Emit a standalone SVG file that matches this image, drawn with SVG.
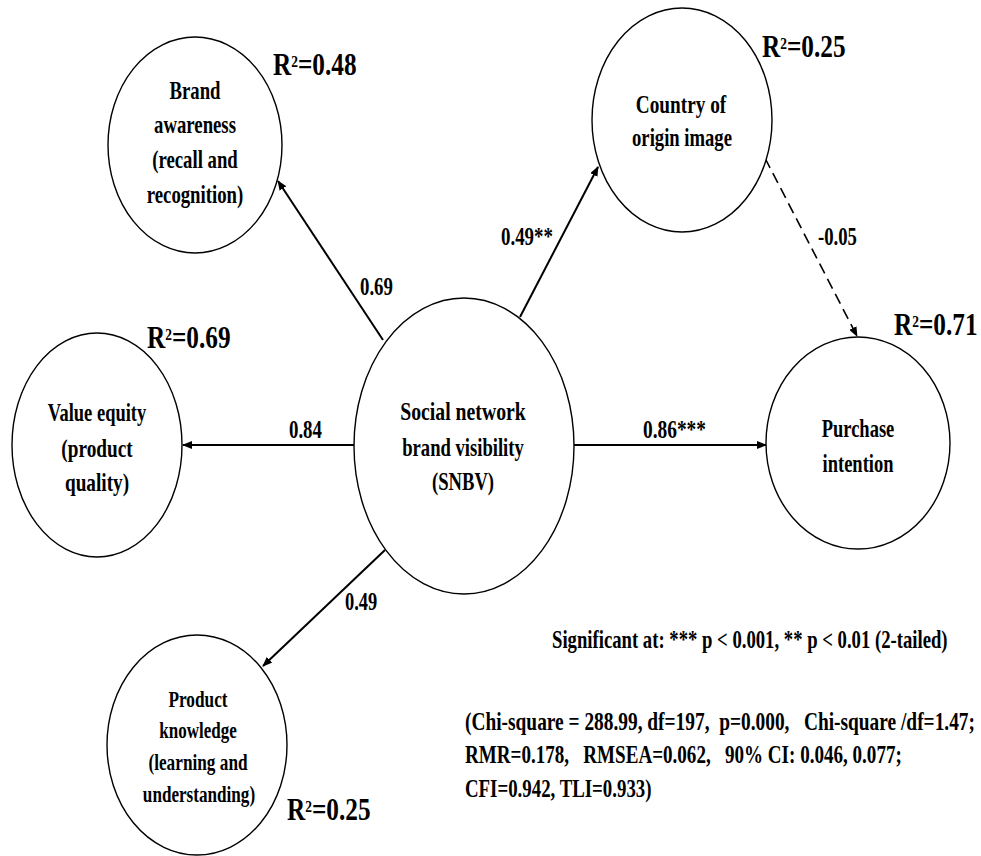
<svg xmlns="http://www.w3.org/2000/svg" width="981" height="856" viewBox="0 0 981 856" font-family="'Liberation Serif', 'Times New Roman', serif" font-weight="bold">
<defs>
<style>
.node ellipse{fill:#fff;stroke:#000;stroke-width:1.4}
text{font-family:'Liberation Serif','Times New Roman',serif;font-weight:bold;fill:#000}
.nt{font-size:25px;text-anchor:middle}
.nts{font-size:23px;text-anchor:middle}
.el{font-size:26px}
.r2{font-size:32px}
.foot{font-size:25px;white-space:pre}
.conn line{stroke:#000;stroke-width:2;fill:none}
.conn .dash{stroke-dasharray:11 6;stroke-width:1.6}
</style>
<marker id="arr" viewBox="0 0 10 8" refX="9" refY="4" markerWidth="10" markerHeight="8" markerUnits="userSpaceOnUse" orient="auto">
<path d="M0,0 L10,4 L0,8 z" fill="#000"/>
</marker>
</defs>
<rect width="981" height="856" fill="#fff"/>

<g id="connectors" class="conn">
<line x1="383" y1="340" x2="278" y2="181" marker-end="url(#arr)"/>
<line x1="520" y1="317" x2="598" y2="167" marker-end="url(#arr)"/>
<line x1="354" y1="445" x2="183" y2="445" marker-end="url(#arr)"/>
<line x1="385" y1="550" x2="263" y2="666" marker-end="url(#arr)"/>
<line x1="574" y1="445" x2="766" y2="445" marker-end="url(#arr)"/>
<line class="dash" x1="765" y1="158" x2="857" y2="336" marker-end="url(#arr)"/>
<text class="el" transform="translate(360 295) scale(0.725 1)">0.69</text>
<text class="el" transform="translate(501 245) scale(0.727 1)">0.49**</text>
<text class="el" transform="translate(818 245) scale(0.72 1)">-0.05</text>
<text class="el" transform="translate(643 438) scale(0.746 1)">0.86***</text>
<text class="el" transform="translate(289 438) scale(0.725 1)">0.84</text>
<text class="el" transform="translate(345 610) scale(0.71 1)">0.49</text>
</g>

<g id="brand-awareness" class="node">
<ellipse cx="195" cy="145" rx="87" ry="108"/>
<text class="nt" transform="translate(195 99) scale(0.75 1)">Brand</text>
<text class="nt" transform="translate(195 133) scale(0.75 1)">awareness</text>
<text class="nt" transform="translate(195 168) scale(0.75 1)">(recall and</text>
<text class="nt" transform="translate(195 203) scale(0.75 1)">recognition)</text>
<text class="r2" transform="translate(273 75) scale(0.79 1)">R<tspan font-size="17" dy="-8">2</tspan><tspan dy="8">=0.48</tspan></text>
</g>

<g id="country-of-origin" class="node">
<ellipse cx="682" cy="120" rx="90" ry="112"/>
<text class="nt" transform="translate(681 113) scale(0.77 1)">Country of</text>
<text class="nt" transform="translate(682 146) scale(0.746 1)">origin image</text>
<text class="r2" transform="translate(762 57) scale(0.79 1)">R<tspan font-size="17" dy="-8">2</tspan><tspan dy="8">=0.25</tspan></text>
</g>

<g id="value-equity" class="node">
<ellipse cx="97" cy="445" rx="85" ry="112"/>
<text class="nt" transform="translate(97 421) scale(0.74 1)">Value equity</text>
<text class="nt" transform="translate(97 457) scale(0.77 1)">(product</text>
<text class="nt" transform="translate(97 491) scale(0.77 1)">quality)</text>
<text class="r2" transform="translate(147 348) scale(0.79 1)">R<tspan font-size="17" dy="-8">2</tspan><tspan dy="8">=0.69</tspan></text>
</g>

<g id="snbv" class="node">
<ellipse cx="464" cy="446" rx="110" ry="148"/>
<text class="nt" transform="translate(463 420) scale(0.79 1)">Social network</text>
<text class="nt" transform="translate(463 456) scale(0.745 1)">brand visibility</text>
<text class="nt" transform="translate(463 490) scale(0.745 1)">(SNBV)</text>
</g>

<g id="purchase-intention" class="node">
<ellipse cx="858" cy="443" rx="92" ry="106"/>
<text class="nt" transform="translate(858 437) scale(0.74 1)">Purchase</text>
<text class="nt" transform="translate(858 472) scale(0.74 1)">intention</text>
<text class="r2" transform="translate(894 335) scale(0.79 1)">R<tspan font-size="17" dy="-8">2</tspan><tspan dy="8">=0.71</tspan></text>
</g>

<g id="product-knowledge" class="node">
<ellipse cx="197" cy="745" rx="90" ry="110"/>
<text class="nts" transform="translate(198 707) scale(0.75 1)">Product</text>
<text class="nts" transform="translate(198 738) scale(0.74 1)">knowledge</text>
<text class="nts" transform="translate(198 770) scale(0.75 1)">(learning and</text>
<text class="nts" transform="translate(199 802) scale(0.745 1)">understanding)</text>
<text class="r2" transform="translate(287 820) scale(0.79 1)">R<tspan font-size="17" dy="-8">2</tspan><tspan dy="8">=0.25</tspan></text>
</g>

<g id="notes">
<text class="foot" transform="translate(552 648) scale(0.748 1)" xml:space="preserve">Significant at: *** p &lt; 0.001, ** p &lt; 0.01 (2-tailed)</text>
<text class="foot" transform="translate(465 730) scale(0.775 1)" xml:space="preserve">(Chi-square = 288.99, df=197,  p=0.000,   Chi-square /df=1.47;</text>
<text class="foot" transform="translate(465 763) scale(0.763 1)" xml:space="preserve">RMR=0.178,   RMSEA=0.062,   90% CI: 0.046, 0.077;</text>
<text class="foot" transform="translate(465 797) scale(0.754 1)" xml:space="preserve">CFI=0.942, TLI=0.933)</text>
</g>
</svg>
